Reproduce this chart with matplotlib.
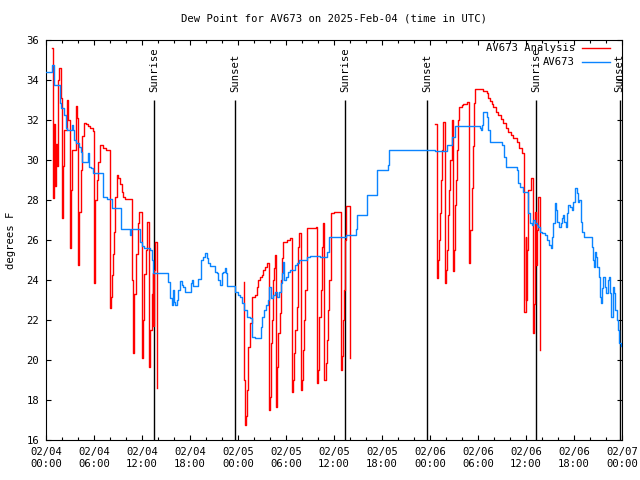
#!/usr/bin/env python3
"""Dew point chart for AV673, analysis vs observed (gnuplot look)."""

import numpy as np
import matplotlib
matplotlib.use("Agg")
import matplotlib.pyplot as plt
from matplotlib.ticker import FixedLocator, MultipleLocator

# hours since 2025-02-04 00:00 UTC
obs_hours = [0.00, 0.79, 1.00, 1.71, 1.84, 2.25, 2.46, 2.66, 3.25, 3.38, 3.50, 3.71, 4.13, 4.34, 4.50,
             5.25, 5.41, 5.63, 5.91, 7.13, 7.59, 8.21, 9.34, 10.50, 10.63, 11.75, 11.96, 12.29, 13.00,
             13.21, 13.41, 15.29, 15.50, 15.71, 15.84, 16.00, 16.16, 16.34, 16.54, 16.75, 16.96, 17.16,
             17.38, 18.09, 18.21, 18.41, 19.04, 19.34, 19.66, 19.88, 20.09, 20.29, 20.50, 21.13, 21.34,
             21.54, 21.75, 21.96, 22.16, 22.38, 22.50, 22.66, 23.63, 24.04, 24.25, 24.46, 24.75, 25.16,
             25.50, 25.71, 26.13, 26.84, 27.04, 27.25, 27.50, 27.79, 27.91, 28.09, 28.41, 28.63, 28.84,
             29.13, 29.34, 29.46, 29.66, 29.79, 30.00, 30.29, 30.50, 31.13, 31.41, 31.66, 32.59, 33.00,
             34.25, 35.16, 35.38, 37.50, 38.75, 38.84, 38.91, 40.09, 41.41, 42.71, 42.88, 48.63, 50.09,
             50.71, 51.13, 54.25, 54.38, 54.50, 54.66, 55.16, 55.29, 55.50, 56.96, 57.25, 57.50, 58.84,
             59.04, 59.25, 59.59, 60.25, 60.50, 60.71, 60.88, 61.13, 61.34, 61.54, 61.75, 61.96, 62.38,
             62.59, 62.91, 63.13, 63.29, 63.41, 63.59, 63.75, 63.91, 64.16, 64.34, 64.50, 64.66, 64.81,
             64.96, 65.09, 65.29, 65.50, 65.71, 65.91, 66.13, 66.34, 66.50, 66.63, 66.84, 67.04, 67.25,
             68.21, 68.38, 68.50, 68.63, 68.75, 68.91, 69.09, 69.25, 69.38, 69.50, 69.66, 69.84, 70.00,
             70.21, 70.34, 70.50, 70.66, 70.84, 71.00, 71.16, 71.34, 71.54, 71.66, 71.88]
obs_dewpt = [34.4, 34.75, 33.75, 32.85, 32.6, 32.25, 31.6, 31.5, 31.75, 31.5, 31.0, 30.85, 30.67, 30.4, 29.9,
             30.35, 29.67, 29.6, 29.35, 28.17, 28.05, 27.6, 26.55, 26.25, 26.55, 25.9, 25.7, 25.6, 25.5,
             25.0, 24.33, 23.9, 23.1, 22.75, 23.5, 22.9, 22.75, 23.0, 23.5, 23.97, 23.75, 23.67,
             23.4, 23.83, 24.0, 23.7, 24.03, 25.0, 25.17, 25.33, 25.08, 24.83, 24.7, 24.4, 24.33,
             24.0, 23.75, 24.33, 24.42, 24.58, 24.33, 23.7, 23.4, 23.25, 23.17, 22.83, 22.5, 22.17,
             22.08, 21.17, 21.08, 21.67, 22.17, 22.5, 22.75, 23.0, 23.67, 23.08, 23.25, 23.42, 23.17,
             23.4, 23.83, 24.33, 24.92, 24.0, 24.17, 24.42, 24.5, 24.75, 24.83, 25.0, 25.17, 25.2,
             25.17, 25.42, 26.17, 26.25, 26.53, 27.0, 27.25, 28.25, 29.5, 29.75, 30.5, 30.45, 30.75,
             31.17, 31.7, 31.6, 31.5, 31.75, 32.42, 32.17, 31.5, 30.92, 30.75, 30.17, 29.67, 29.5,
             28.83, 28.67, 28.42, 27.33, 26.83, 26.75, 27.0, 26.87, 26.75, 26.67, 26.42, 26.33, 26.25,
             26.0, 25.75, 25.58, 26.17, 26.83, 27.83, 27.5, 26.92, 26.67, 26.83, 27.08, 27.25, 26.9,
             26.67, 27.33, 27.75, 27.67, 27.5, 27.92, 28.58, 28.33, 27.92, 28.0, 26.92, 26.42, 26.13,
             25.67, 25.0, 24.67, 25.42, 25.17, 24.67, 24.17, 23.17, 22.83, 23.58, 24.17, 23.67, 23.33,
             24.0, 24.17, 23.33, 22.17, 23.67, 23.33, 22.5, 22.0, 21.5, 20.83, 20.7]

# analysis series comes in three daytime runs
ana_hours_1 = [0.79, 0.88, 1.00, 1.13, 1.25, 1.38, 1.50, 1.63, 1.88, 2.04, 2.13, 2.25, 2.59, 2.79, 2.94,
               3.06, 3.16, 3.31, 3.69, 3.88, 4.04, 4.16, 4.38, 4.56, 4.79, 5.00, 5.25, 5.50, 5.91, 5.96,
               6.04, 6.16, 6.41, 6.56, 6.75, 7.13, 7.50, 8.00, 8.06, 8.13, 8.25, 8.38, 8.50, 8.63, 8.84,
               9.04, 9.25, 9.46, 9.59, 9.88, 10.71, 10.79, 10.91, 11.00, 11.25, 11.54, 11.66, 11.96,
               12.13, 12.25, 12.50, 12.63, 12.91, 13.06, 13.21, 13.34, 13.41, 13.56, 13.63, 13.91]
ana_dewpt_1 = [35.6, 28.1, 31.8, 28.7, 30.8, 29.7, 34.0, 34.6, 33.1, 27.1, 29.7, 31.5, 33.0, 32.0, 26.2,
               25.6, 28.5, 30.5, 32.7, 32.1, 24.75, 27.4, 29.5, 31.2, 31.83, 31.8, 31.7, 31.6, 31.45, 28.2,
               23.87, 28.0, 29.0, 29.9, 30.75, 30.6, 30.5, 30.25, 22.58, 23.17, 24.25, 25.3, 26.4, 28.17, 29.25,
               29.1, 28.8, 28.4, 28.17, 28.03, 27.92, 24.0, 20.33, 23.3, 25.3, 26.83, 27.42, 20.08,
               22.0, 24.3, 25.5, 26.92, 19.67, 21.5, 23.3, 24.33, 21.7, 24.5, 25.92, 18.6]

ana_hours_2 = [24.75, 24.81, 24.91, 25.04, 25.16, 25.29, 25.50, 25.71, 25.79, 26.13, 26.34, 26.54, 26.75,
               26.96, 27.16, 27.38, 27.59, 27.79, 27.88, 28.00, 28.09, 28.21, 28.34, 28.50, 28.63, 28.75,
               28.91, 29.04, 29.25, 29.38, 29.46, 29.59, 30.16, 30.50, 30.79, 30.88, 31.00, 31.13, 31.34,
               31.44, 31.54, 31.66, 31.84, 31.96, 32.09, 32.25, 32.41, 32.59, 32.66, 33.25, 33.75, 33.91,
               34.04, 34.16, 34.34, 34.46, 34.59, 34.79, 34.96, 35.09, 35.21, 35.38, 35.59, 36.00, 36.38,
               36.84, 37.00, 37.16, 37.31, 37.41, 37.50, 37.95]
ana_dewpt_2 = [23.92, 19.0, 16.75, 17.2, 18.5, 20.67, 21.83, 22.67, 23.13, 23.25, 23.67, 24.0, 24.13,
               24.25, 24.5, 24.67, 24.83, 24.87, 17.5, 18.17, 20.83, 22.0, 24.0, 24.58, 25.25, 17.67,
               19.67, 21.33, 22.33, 24.0, 25.08, 25.92, 26.0, 26.08, 18.42, 19.0, 20.33, 21.5, 22.67,
               24.5, 25.67, 26.33, 18.5, 19.0, 20.5, 22.0, 23.5, 25.17, 26.58, 26.6, 26.65, 18.83,
               19.5, 22.17, 23.5, 25.67, 26.83, 19.0, 19.83, 21.0, 22.5, 24.0, 27.33, 27.38, 27.42,
               19.5, 20.2, 22.0, 23.5, 26.0, 27.7, 20.08]

ana_hours_3 = [48.63, 48.91, 49.06, 49.16, 49.25, 49.38, 49.50, 49.63, 49.88, 50.00, 50.13, 50.25, 50.38,
               50.54, 50.71, 50.91, 51.00, 51.13, 51.25, 51.38, 51.54, 51.66, 51.94, 52.16, 52.59, 52.91,
               53.04, 53.21, 53.38, 53.50, 53.63, 54.63, 55.09, 55.29, 55.50, 55.71, 55.91, 56.25, 56.54,
               56.84, 57.16, 57.50, 57.79, 58.13, 58.41, 58.84, 59.16, 59.46, 59.75, 59.81, 59.94, 60.03,
               60.13, 60.25, 60.59, 60.88, 61.00, 61.13, 61.29, 61.38, 61.54, 61.79]
ana_dewpt_3 = [31.8, 24.1, 25.0, 26.0, 27.35, 29.0, 30.5, 31.92, 23.87, 24.5, 25.5, 27.25, 28.5,
               30.0, 32.0, 24.47, 25.5, 27.75, 29.0, 30.5, 32.0, 32.67, 32.75, 32.8, 32.92, 24.87,
               26.5, 28.58, 30.7, 32.83, 33.53, 33.47, 33.33, 33.1, 32.97, 32.8, 32.63, 32.4, 32.25,
               32.05, 31.87, 31.6, 31.42, 31.25, 31.08, 30.92, 30.58, 30.33, 30.0, 22.42, 26.17, 23.0,
               25.5, 28.5, 29.08, 21.33, 22.8, 27.42, 24.75, 26.5, 28.17, 20.5]

sun_hours = [13.50, 23.67, 37.42, 47.66, 61.29, 71.70]
sun_labels = ["Sunrise", "Sunset", "Sunrise", "Sunset", "Sunrise", "Sunset"]

FONT = "DejaVu Sans Mono"
FS = 7.6

fig = plt.figure(figsize=(6.4, 4.8), dpi=100)
ax = fig.add_axes([46 / 640, 40 / 480, 576 / 640, 400 / 480])

# sunrise / sunset markers
ax.vlines(sun_hours, 16, 33, color="black", linewidth=1.0, zorder=1)
for h, lab in zip(sun_hours, sun_labels):
    ax.text(h, 33.4, lab, rotation=90, ha="center", va="bottom",
            family=FONT, fontsize=FS, zorder=4)

for hrs, vals in [(ana_hours_1, ana_dewpt_1), (ana_hours_2, ana_dewpt_2), (ana_hours_3, ana_dewpt_3)]:
    ax.plot(hrs, vals, color="#ff0000", linewidth=1.0, drawstyle="steps-post", zorder=2)
ax.plot(obs_hours, obs_dewpt, color="#0a84ff", linewidth=1.0, drawstyle="steps-post", zorder=3)

# legend, gnuplot style (text right-aligned, sample to the right)
for i, (lab, col) in enumerate([("AV673 Analysis", "#ff0000"), ("AV673", "#0a84ff")]):
    y = 0.980 - i * 0.035
    ax.text(0.918, y, lab, ha="right", va="center", transform=ax.transAxes,
            family=FONT, fontsize=FS, zorder=5)
    ax.plot([0.931, 0.979], [y, y], color=col, linewidth=1.0, transform=ax.transAxes, zorder=5)

ax.set_xlim(0, 72)
ax.set_ylim(16, 36)

major = list(range(0, 73, 6))
ax.xaxis.set_major_locator(FixedLocator(major))
ax.set_xticklabels(["02/%02d\n%02d:00" % (4 + h // 24, h % 24) for h in major])
ax.xaxis.set_minor_locator(MultipleLocator(2))
ax.yaxis.set_major_locator(MultipleLocator(2))

ax.tick_params(which="both", direction="in", top=True, right=True, width=0.8)
ax.tick_params(which="major", length=3.5, labelsize=FS, pad=5)
ax.tick_params(which="minor", length=2.2)
for lbl in ax.get_xticklabels() + ax.get_yticklabels():
    lbl.set_family(FONT)
for sp in ax.spines.values():
    sp.set_linewidth(0.8)

ax.set_title("Dew Point for AV673 on 2025-Feb-04 (time in UTC)", family=FONT, fontsize=FS, pad=13)
ax.set_ylabel("degrees F", family=FONT, fontsize=FS)
ax.yaxis.set_label_coords(-0.052, 0.5)

fig.savefig("out.png", dpi=100, facecolor="white")
